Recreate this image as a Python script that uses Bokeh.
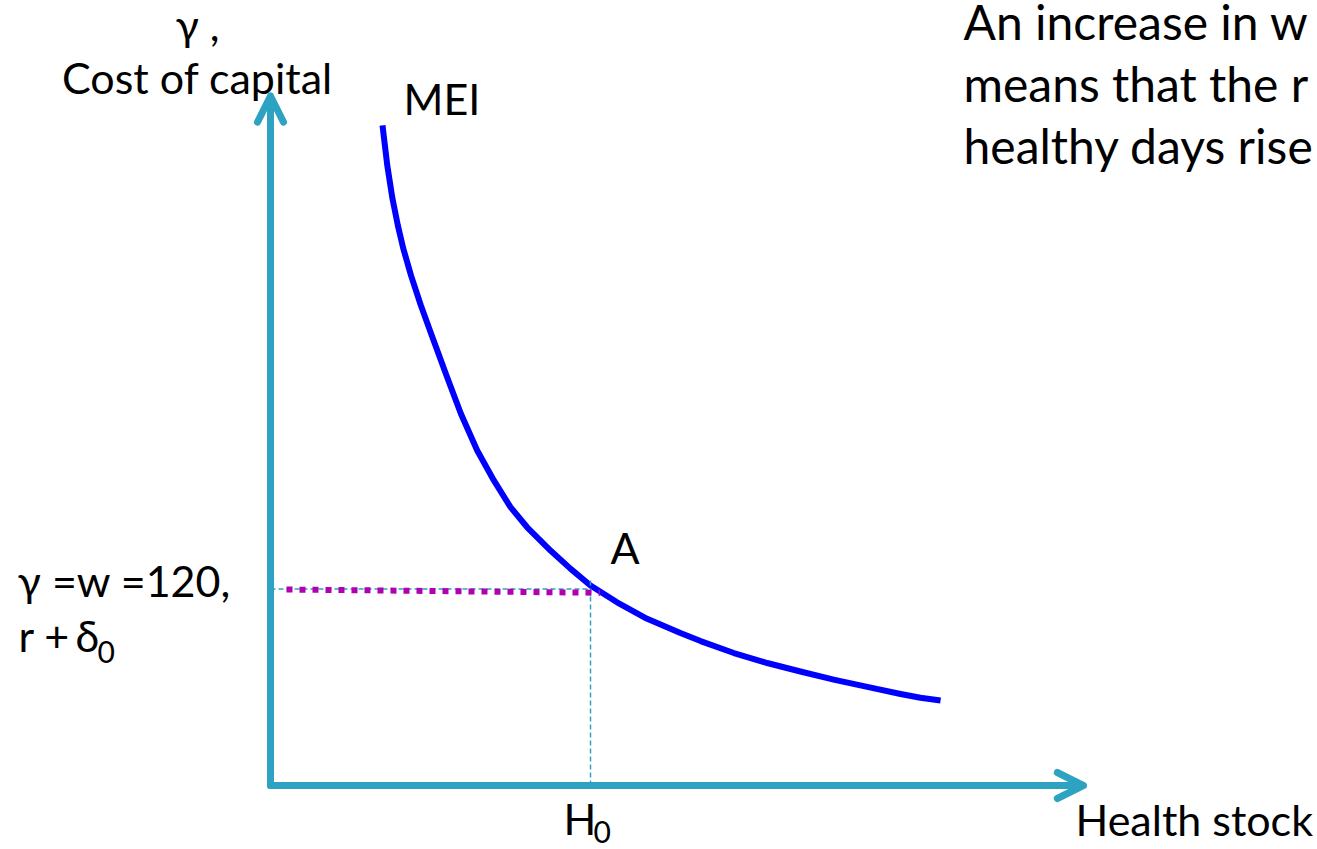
from bokeh.plotting import figure
from bokeh.models import Range1d, Arrow, OpenHead
from bokeh.core.properties import value
from bokeh.embed import file_html
from bokeh.resources import INLINE

# ---- data ----
MEI_H = [35.0, 36.5, 38.1, 39.8, 41.5, 43.9, 47.0, 50.4, 55.2, 59.5, 64.6, 69.8,
         75.0, 80.2, 87.5, 93.8, 100.0, 108.3, 117.7, 128.1, 134.4, 144.8, 155.2,
         165.6, 176.0, 186.5, 196.9, 203.1, 209.4]
MEI_G = [403.1, 378.6, 358.5, 342.0, 327.9, 311.5, 293.1, 274.8, 249.3, 227.0, 204.6, 186.3,
         170.0, 157.7, 143.5, 132.3, 122.1, 111.9, 101.8, 93.1, 88.2, 80.9, 74.8,
         69.6, 64.7, 60.2, 55.9, 53.6, 51.9]
H0 = 100.0
GAMMA0 = 120.0
COST_H = [5.0, 103.0]
COST_G = [119.7, 117.7]
H_AXIS_MAX = 254.0
G_AXIS_MAX = 421.0
V_GUIDE_TOP = 127.0

RIGHT_TEXT = ["An increase in w", "means that the r", "healthy days rise"]

# ---- layout helpers (canvas pixel -> data) ----
OX, OY = 270.0, 785.0
PX_H, PX_G = 3.2, 1.6375
W, H = 1317, 849


def tx(px):
    return (px - OX) / PX_H


def ty(py):
    return (OY - py) / PX_G


TEAL = "#2EA3C1"
BLUE = "#0000FF"
MAGENTA = "#B000B0"
FONT = value("Lato")
FS = 43

p = figure(width=W, height=H, output_backend="svg", toolbar_location=None,
           x_range=Range1d(tx(0), tx(W)), y_range=Range1d(ty(H), ty(0)),
           x_axis_location=None, y_axis_location=None, min_border=0,
           outline_line_color=None, background_fill_color="white")
p.grid.visible = False

# MEI curve
p.line(MEI_H, MEI_G, line_color=BLUE, line_width=6, line_join="round")

# guides
p.line([0, H0], [GAMMA0, GAMMA0], line_color=TEAL, line_width=1.5, line_dash="5 3")
p.line([H0, H0], [0, V_GUIDE_TOP], line_color=TEAL, line_width=1.5, line_dash="5 3")

# cost of capital (dotted magenta)
p.line(COST_H, COST_G, line_color=MAGENTA, line_width=6, line_dash="6 7", line_cap="butt")

# axes with arrow heads
for xe, ye in [(0, G_AXIS_MAX), (H_AXIS_MAX, 0)]:
    p.add_layout(Arrow(x_start=0, y_start=0, x_end=xe, y_end=ye,
                       line_color=TEAL, line_width=7, line_cap="round",
                       end=OpenHead(size=26, line_color=TEAL, line_width=7,
                                    line_cap="round", line_join="round")))


# texts (baseline given in canvas px; renderer puts glyphs ~0.4em lower)
def txt(x, base, s, align="left", size=FS):
    p.text(x=[tx(x)], y=[ty(base - 0.4 * size)], text=[s], text_font=FONT,
           text_font_size=f"{size}px", text_align=align,
           text_baseline="alphabetic", text_color="black")


txt(197, 41, "γ ,", "center")
txt(197, 94, "Cost of capital", "center")
txt(403, 115, "MEI")
txt(610, 564, "A")
txt(17, 597, "γ =w =120,")
txt(18, 652, "r +")
txt(75, 652, "δ")
txt(97, 663, "0", size=30)
txt(563, 835, "H")
txt(593, 843, "0", size=30)
txt(1075, 836, "Health stock")
for i, s in enumerate(RIGHT_TEXT):
    txt(963, 40 + 62 * i, s, size=48)

open("out.html", "w").write(file_html(p, INLINE))
